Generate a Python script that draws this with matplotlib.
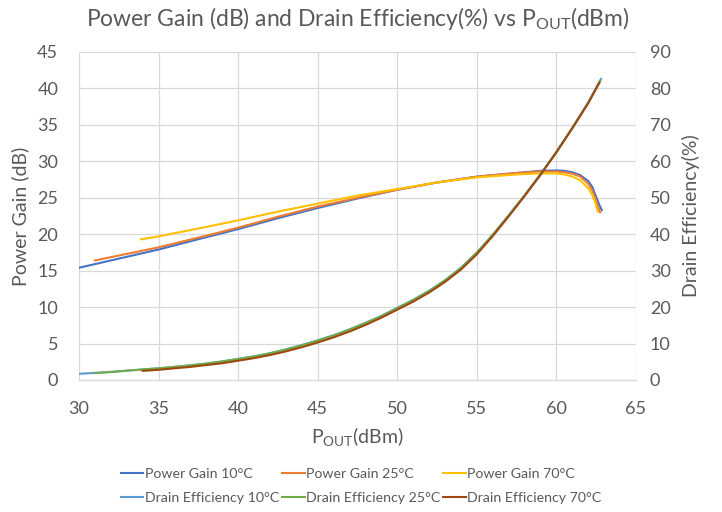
import matplotlib
matplotlib.use("Agg")
import matplotlib.pyplot as plt

plt.rcParams["font.family"] = ["Lato", "DejaVu Sans"]
plt.rcParams["mathtext.fontset"] = "custom"
plt.rcParams["mathtext.rm"] = "Lato"
plt.rcParams["mathtext.it"] = "Lato:italic"

TXT = "#595959"
GRID = "#D9D9D9"

# ---- Power gain (dB) ----
pg10_x = [30, 32, 35, 38, 40, 42.5, 45, 47.5, 50, 52.5, 55, 57.5, 59, 60, 60.5, 61, 61.5, 62, 62.25, 62.5, 62.7, 62.85]
pg10_y = [15.4, 16.4, 17.9, 19.6, 20.7, 22.2, 23.6, 24.9, 26.1, 27.1, 27.9, 28.4, 28.7, 28.75, 28.7, 28.5, 28.1, 27.3, 26.5, 25.1, 24.0, 23.3]

pg25_x = [31, 33, 35, 38, 40, 42.5, 45, 47.5, 50, 52.5, 55, 57.5, 59, 60, 60.5, 61, 61.5, 62, 62.25, 62.5, 62.65, 62.75]
pg25_y = [16.4, 17.3, 18.2, 19.8, 20.9, 22.4, 23.8, 25.0, 26.1, 27.1, 27.9, 28.4, 28.6, 28.6, 28.5, 28.3, 27.9, 26.9, 26.0, 24.6, 23.6, 23.0]

pg70_x = [33.9, 35, 38, 40, 42.5, 45, 47.5, 50, 52.5, 55, 57.5, 59, 60, 60.5, 61, 61.5, 62, 62.25, 62.45, 62.6]
pg70_y = [19.3, 19.7, 21.0, 21.9, 23.1, 24.2, 25.3, 26.2, 27.1, 27.8, 28.2, 28.35, 28.35, 28.2, 27.9, 27.4, 26.3, 25.4, 24.3, 23.1]

# ---- Drain efficiency (%) ----
de10_x = [30, 31, 32, 33, 34, 35, 36, 37, 38, 39, 40, 41, 42, 43, 44, 45, 46, 47, 48, 49,
          50, 51, 52, 53, 54, 55, 56, 57, 58, 59, 60, 61, 62, 62.8]
de10_y = [1.7, 1.95, 2.2, 2.55, 2.9, 3.2, 3.6, 4.05, 4.5, 5.1, 5.8, 6.5, 7.35, 8.4, 9.6, 10.9, 12.3, 13.9, 15.7, 17.6,
          19.8, 22.0, 24.5, 27.4, 30.8, 35.0, 39.9, 45.2, 50.7, 56.5, 62.6, 69.2, 76.2, 82.6]

de25_x = [31, 32, 33, 34, 35, 36, 37, 38, 39, 40, 41, 42, 43, 44, 45, 46, 47, 48, 49,
          50, 51, 52, 53, 54, 55, 56, 57, 58, 59, 60, 61, 62, 62.75]
de25_y = [1.9, 2.2, 2.55, 2.9, 3.2, 3.6, 4.0, 4.5, 5.1, 5.75, 6.45, 7.3, 8.35, 9.5, 10.8, 12.2, 13.8, 15.6, 17.5,
          19.7, 21.9, 24.4, 27.3, 30.7, 34.9, 39.8, 45.1, 50.6, 56.4, 62.5, 69.1, 76.0, 82.1]

de70_x = [34, 35, 36, 37, 38, 39, 40, 41, 42, 43, 44, 45, 46, 47, 48, 49,
          50, 51, 52, 53, 54, 55, 56, 57, 58, 59, 60, 61, 62, 62.7]
de70_y = [2.5, 2.8, 3.2, 3.6, 4.1, 4.6, 5.3, 6.0, 6.85, 7.85, 9.0, 10.3, 11.7, 13.3, 15.1, 17.1,
          19.3, 21.5, 24.0, 26.9, 30.3, 34.5, 39.5, 44.9, 50.5, 56.3, 62.5, 69.1, 76.0, 81.6]

fig = plt.figure(figsize=(7.22, 5.12), dpi=100)
ax = fig.add_axes([79 / 722, 1 - 380 / 512, 557 / 722, 328 / 512])
ax2 = ax.twinx()

lw = 1.5
g10, = ax.plot(pg10_x, pg10_y, color="#4472C4", lw=lw, label="Power Gain 10°C")
g25, = ax.plot(pg25_x, pg25_y, color="#ED7D31", lw=lw, label="Power Gain 25°C")
g70, = ax.plot(pg70_x, pg70_y, color="#FFC000", lw=lw, label="Power Gain 70°C")
d10, = ax2.plot(de10_x, de10_y, color="#5B9BD5", lw=lw, label="Drain Efficiency 10°C")
d25, = ax2.plot(de25_x, de25_y, color="#70AD47", lw=lw, label="Drain Efficiency 25°C")
d70, = ax2.plot(de70_x, de70_y, color="#9E480E", lw=lw, label="Drain Efficiency 70°C")

ax.set_xlim(30, 65)
ax.set_ylim(0, 45)
ax2.set_ylim(0, 90)
ax.set_xticks(range(30, 66, 5))
ax.set_yticks(range(0, 46, 5))
ax2.set_yticks(range(0, 91, 10))
ax.grid(True, color=GRID, lw=0.9)
ax.set_axisbelow(True)

for a in (ax, ax2):
    for s in ("top", "left", "right"):
        a.spines[s].set_visible(False)
    a.spines["bottom"].set_color(GRID)
    a.tick_params(length=0, labelsize=13, labelcolor=TXT)
ax.tick_params(axis="x", pad=15)
ax.tick_params(axis="y", pad=15)
ax2.tick_params(axis="y", pad=10)

ax.set_ylabel("Power Gain (dB)", fontsize=14, color=TXT, labelpad=6)
ax2.set_ylabel("Drain Efficiency(%)", fontsize=14, color=TXT, labelpad=8)
ax.set_xlabel(r"P$_{\mathrm{OUT}}$(dBm)", fontsize=14, color=TXT, labelpad=6)
fig.text(0.495, 1 - 19 / 512, r"Power Gain (dB) and Drain Efficiency(%) vs P$_{\mathrm{OUT}}$(dBm)",
         fontsize=16.5, color=TXT, ha="center", va="center")

handles = [g10, d10, g25, d25, g70, d70]
fig.legend(handles, [h.get_label() for h in handles], ncol=3,
           loc="center", bbox_to_anchor=(0.5, 1 - 486 / 512), frameon=False,
           fontsize=10.2, labelcolor=TXT, handlelength=1.6, handletextpad=0.1,
           columnspacing=0.2, labelspacing=0.8)

fig.savefig("out.png", dpi=100)
